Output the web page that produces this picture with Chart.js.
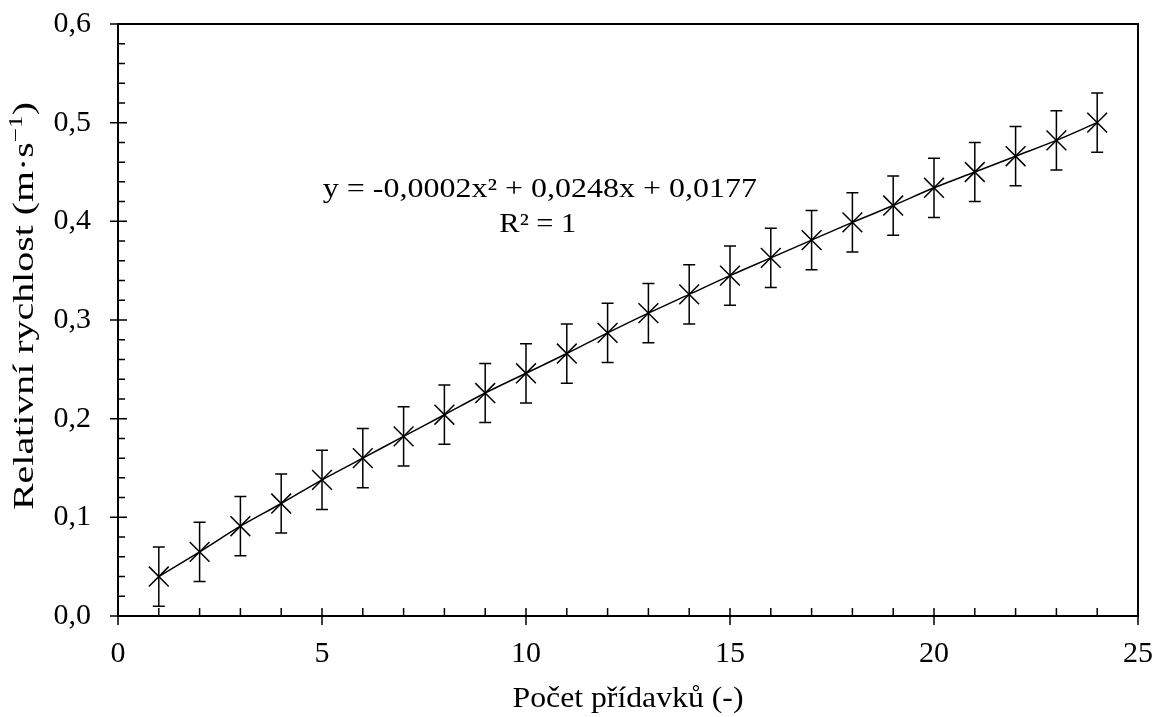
<!DOCTYPE html>
<html>
<head>
<meta charset="utf-8">
<script src="https://cdn.jsdelivr.net/npm/chart.js@4.4.1/dist/chart.umd.min.js"></script>
<style>
  html, body { margin: 0; padding: 0; background: #fff; }
</style>
</head>
<body>
<canvas id="chart" width="1156" height="717"></canvas>
<script>
// data
const additions = [1, 2, 3, 4, 5, 6, 7, 8, 9, 10, 11, 12, 13, 14, 15, 16, 17, 18, 19, 20, 21, 22, 23, 24];
const speeds = [0.040, 0.065, 0.091, 0.114, 0.138, 0.160, 0.182, 0.204, 0.226, 0.246, 0.266, 0.287,
                0.307, 0.326, 0.345, 0.363, 0.381, 0.399, 0.416, 0.434, 0.450, 0.466, 0.482, 0.500];
const speedErrors = [0.03, 0.03, 0.03, 0.03, 0.03, 0.03, 0.03, 0.03, 0.03, 0.03, 0.03, 0.03,
                     0.03, 0.03, 0.03, 0.03, 0.03, 0.03, 0.03, 0.03, 0.03, 0.03, 0.03, 0.03];
const xTickLabels = [0, 5, 10, 15, 20, 25];
const yTickLabels = ['0,0', '0,1', '0,2', '0,3', '0,4', '0,5', '0,6'];
const equation = 'y = -0,0002x² + 0,0248x + 0,0177';
const rSquared = 'R² = 1';
const xTitle = 'Počet přídavků (-)';
const yTitle = ['Relativní rychlost (m·s', '−1', ')'];

const FONT = '"Liberation Serif", "Times New Roman", serif';

// the reference text is a bit wider than plain Times, so stretch it to the measured width
function drawText(ctx, parts, cx, baseY, width, angle) {
    let total = 0;
    parts.forEach(p => {
        ctx.font = p.size + 'px ' + FONT;
        p.w = ctx.measureText(p.text).width;
        total += p.w;
    });
    ctx.save();
    ctx.translate(cx, baseY);
    ctx.rotate(angle);
    ctx.scale(width / total, 1);
    ctx.textAlign = 'left';
    ctx.textBaseline = 'alphabetic';
    let x = -total / 2;
    parts.forEach(p => {
        ctx.font = p.size + 'px ' + FONT;
        ctx.fillText(p.text, x, -(p.rise || 0));
        x += p.w;
    });
    ctx.restore();
}

// error bars, frame with Excel-like tick marks, titles, trendline label
const excelLook = {
    id: 'excelLook',
    afterDatasetsDraw(chart) {
        const ctx = chart.ctx;
        const xs = chart.scales.x;
        const ys = chart.scales.y;
        const area = chart.chartArea;

        ctx.save();
        ctx.strokeStyle = '#000';
        ctx.lineWidth = 1.5;

        // error bars
        additions.forEach((a, i) => {
            const px = xs.getPixelForValue(a);
            const top = ys.getPixelForValue(speeds[i] + speedErrors[i]);
            const bot = ys.getPixelForValue(speeds[i] - speedErrors[i]);
            ctx.beginPath();
            ctx.moveTo(px, top); ctx.lineTo(px, bot);
            ctx.moveTo(px - 6, top); ctx.lineTo(px + 6, top);
            ctx.moveTo(px - 6, bot); ctx.lineTo(px + 6, bot);
            ctx.stroke();
        });

        // plot frame
        ctx.lineWidth = 2;
        ctx.strokeRect(area.left, area.top, area.right - area.left, area.bottom - area.top);

        // tick marks: majors cross the axis, minors point inwards
        ctx.lineWidth = 1.5;
        ctx.beginPath();
        for (let i = 0; i <= 25; i++) {
            const px = xs.getPixelForValue(i);
            ctx.moveTo(px, area.bottom - 8);
            ctx.lineTo(px, i % 5 === 0 ? area.bottom + 9 : area.bottom);
        }
        for (let i = 0; i <= 30; i++) {
            const py = ys.getPixelForValue(i * 0.02);
            ctx.moveTo(i % 5 === 0 ? area.left - 8 : area.left, py);
            ctx.lineTo(area.left + (i % 5 === 0 ? 9 : 7), py);
        }
        ctx.stroke();

        ctx.fillStyle = '#000';
        // trendline equation
        drawText(ctx, [{ text: equation, size: 27 }],
            xs.getPixelForValue(10.34), ys.getPixelForValue(0.425), 434, 0);
        drawText(ctx, [{ text: rSquared, size: 27 }],
            xs.getPixelForValue(10.29), ys.getPixelForValue(0.3895), 77, 0);

        // axis titles
        drawText(ctx, [{ text: xTitle, size: 29 }],
            (area.left + area.right) / 2, chart.height - 10, 231, 0);
        drawText(ctx, [
            { text: yTitle[0], size: 30 },
            { text: yTitle[1], size: 19, rise: 11 },
            { text: yTitle[2], size: 30 }
        ], 33, (area.top + area.bottom) / 2 - 14, 408, -Math.PI / 2);
        ctx.restore();
    }
};

new Chart(document.getElementById('chart'), {
    type: 'scatter',
    data: {
        datasets: [{
            label: 'Relativní rychlost',
            data: additions.map((a, i) => ({ x: a, y: speeds[i] })),
            showLine: true,
            borderColor: '#000',
            borderWidth: 1.5,
            cubicInterpolationMode: 'monotone',
            pointStyle: 'crossRot',
            pointRadius: 14,
            pointBorderWidth: 1.5,
            pointBorderColor: '#000',
            pointBackgroundColor: '#000'
        }]
    },
    options: {
        responsive: false,
        animation: false,
        devicePixelRatio: 1,
        layout: { padding: { top: 24, right: 18, left: 0, bottom: 0 } },
        plugins: {
            legend: { display: false },
            tooltip: { enabled: false }
        },
        scales: {
            x: {
                type: 'linear',
                min: 0,
                max: 25,
                afterFit: s => { s.height = 101; s.paddingLeft = 0; s.paddingRight = 0; },
                afterBuildTicks: s => { s.ticks = xTickLabels.map(v => ({ value: v })); },
                grid: { display: false, drawTicks: false },
                border: { display: false },
                ticks: {
                    color: '#000',
                    padding: 20,
                    font: { family: FONT, size: 30 },
                    callback: v => String(v)
                }
            },
            y: {
                type: 'linear',
                min: 0,
                max: 0.6,
                afterFit: s => { s.width = 118; s.paddingTop = 0; s.paddingBottom = 0; },
                afterBuildTicks: s => { s.ticks = yTickLabels.map((t, i) => ({ value: i / 10 })); },
                grid: { display: false, drawTicks: false },
                border: { display: false },
                ticks: {
                    color: '#000',
                    padding: 27,
                    font: { family: FONT, size: 30 },
                    callback: (v, i) => yTickLabels[i]
                }
            }
        }
    },
    plugins: [excelLook]
});
</script>
</body>
</html>
